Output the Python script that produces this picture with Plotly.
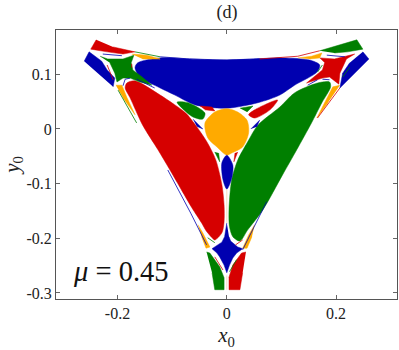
import plotly.graph_objects as go

BLUE = "#0000b0"
RED = "#d60000"
GREEN = "#007f00"
ORANGE = "#ffaa00"
PEACH = "#f5d5b0"

x_ticks = [-0.2, 0, 0.2]
x_labels = ["-0.2", "0", "0.2"]
y_ticks = [0.1, 0, -0.1, -0.2, -0.3]
y_labels = ["0.1", "0", "-0.1", "-0.2", "-0.3"]

# basin outlines in (x0, y0)
blue_top_x = [-0.168, -0.163, -0.122, -0.068, -0.013, 0.048, 0.102, 0.152, 0.170, 0.165, 0.124, 0.097, 0.057, 0.0, -0.058, -0.095, -0.122, -0.159]
blue_top_y = [0.112, 0.121, 0.130, 0.128, 0.126, 0.128, 0.130, 0.126, 0.117, 0.104, 0.080, 0.062, 0.048, 0.038, 0.044, 0.062, 0.075, 0.095]
red_lobe_x = [-0.186, -0.183, -0.168, -0.122, -0.095, -0.075, -0.055, -0.035, -0.020, -0.009, -0.005, -0.005, -0.009, -0.022, -0.027, -0.038, -0.046, -0.064, -0.104, -0.126, -0.154, -0.177]
red_lobe_y = [0.075, 0.084, 0.088, 0.062, 0.044, 0.029, 0.004, -0.026, -0.057, -0.102, -0.139, -0.170, -0.190, -0.203, -0.199, -0.186, -0.172, -0.144, -0.075, -0.038, 0.007, 0.057]
green_lobe_x = [0.188, 0.190, 0.174, 0.155, 0.128, 0.102, 0.066, 0.038, 0.024, 0.011, 0.005, 0.004, 0.009, 0.020, 0.038, 0.057, 0.097, 0.124, 0.166]
green_lobe_y = [0.086, 0.077, 0.048, 0.011, -0.038, -0.084, -0.148, -0.185, -0.205, -0.197, -0.179, -0.148, -0.093, -0.057, -0.024, 0.007, 0.040, 0.066, 0.084]
orange_mid_x = [-0.040, -0.022, 0.0, 0.020, 0.037, 0.040, 0.029, 0.009, 0.0, -0.018, -0.035]
orange_mid_y = [0.011, 0.031, 0.037, 0.031, 0.016, -0.007, -0.033, -0.044, -0.048, -0.033, -0.016]
blue_drop_x = [0.0, -0.009, -0.007, 0.0, 0.009, 0.011]
blue_drop_y = [-0.048, -0.062, -0.093, -0.110, -0.090, -0.066]
blue_star_x = [0.0, -0.002, -0.004, -0.009, -0.016, -0.027, -0.018, -0.013, -0.005, 0.0, 0.005, 0.011, 0.018, 0.029, 0.020, 0.015, 0.007, 0.004]
blue_star_y = [-0.172, -0.188, -0.197, -0.207, -0.212, -0.219, -0.227, -0.234, -0.249, -0.263, -0.249, -0.236, -0.227, -0.219, -0.216, -0.212, -0.205, -0.197]
green_low_x = [-0.037, -0.031, -0.013, -0.005, -0.005, -0.022, -0.027]
green_low_y = [-0.225, -0.227, -0.252, -0.272, -0.294, -0.294, -0.263]
red_low_x = [0.035, 0.027, 0.011, 0.004, 0.004, 0.024, 0.029]
red_low_y = [-0.225, -0.227, -0.249, -0.271, -0.294, -0.294, -0.263]
orange_ll_x = [-0.053, -0.044, -0.031, -0.038, -0.046]
orange_ll_y = [-0.175, -0.190, -0.216, -0.218, -0.197]
orange_lr_x = [0.051, 0.040, 0.029, 0.037, 0.046]
orange_lr_y = [-0.175, -0.194, -0.218, -0.218, -0.197]
green_sm_low_x = [-0.022, -0.013, -0.015]
green_sm_low_y = [-0.042, -0.060, -0.044]
red_sm_low_x = [0.020, 0.013, 0.015]
red_sm_low_y = [-0.042, -0.060, -0.044]

red_wedge_x = [-0.239, -0.249, -0.219, -0.190, -0.168, -0.208]
red_wedge_y = [0.163, 0.146, 0.141, 0.137, 0.141, 0.150]
blue_tip_l_x = [-0.261, -0.252, -0.229, -0.219, -0.205, -0.208]
blue_tip_l_y = [0.124, 0.141, 0.124, 0.108, 0.093, 0.077]
green_star_x = [-0.232, -0.218, -0.190, -0.170, -0.175, -0.172, -0.155, -0.137, -0.159, -0.177, -0.190, -0.201, -0.205, -0.214]
green_star_y = [0.133, 0.128, 0.128, 0.135, 0.121, 0.108, 0.095, 0.080, 0.086, 0.093, 0.093, 0.086, 0.102, 0.121]
orange_ul_x = [-0.174, -0.146, -0.122, -0.154]
orange_ul_y = [0.137, 0.135, 0.128, 0.128]
orange_ul2_x = [-0.203, -0.192, -0.183, -0.168, -0.190]
orange_ul2_y = [0.080, 0.080, 0.058, 0.026, 0.057]
green_sm_l_x = [-0.091, -0.071, -0.040, -0.044, -0.062, -0.082]
green_sm_l_y = [0.049, 0.048, 0.029, 0.018, 0.022, 0.038]
red_sm_l_x = [-0.049, -0.027, -0.022, -0.040]
red_sm_l_y = [0.042, 0.040, 0.033, 0.035]
blue_sm_l_x = [-0.062, -0.044, -0.055]
blue_sm_l_y = [0.018, 0.0, 0.005]

green_wedge_x = [0.170, 0.238, 0.249, 0.221, 0.197]
green_wedge_y = [0.143, 0.163, 0.146, 0.141, 0.139]
blue_tip_r_x = [0.249, 0.260, 0.207, 0.212, 0.225]
blue_tip_r_y = [0.141, 0.128, 0.075, 0.102, 0.121]
red_star_x = [0.170, 0.197, 0.234, 0.219, 0.207, 0.205, 0.188, 0.175, 0.146, 0.175, 0.179]
red_star_y = [0.130, 0.128, 0.137, 0.128, 0.102, 0.082, 0.095, 0.093, 0.084, 0.108, 0.121]
orange_ur_x = [0.130, 0.155, 0.174, 0.170, 0.152]
orange_ur_y = [0.130, 0.133, 0.139, 0.130, 0.128]
orange_ur2_x = [0.207, 0.194, 0.175, 0.165, 0.185]
orange_ur2_y = [0.080, 0.077, 0.040, 0.020, 0.048]
red_sm_r_x = [0.040, 0.051, 0.093, 0.079, 0.051]
red_sm_r_y = [0.026, 0.035, 0.053, 0.035, 0.020]
green_sm_r_x = [0.024, 0.048, 0.037]
green_sm_r_y = [0.038, 0.042, 0.031]
blue_sm_r_x = [0.044, 0.060, 0.055]
blue_sm_r_y = [0.0, 0.016, 0.004]

# thin filaments along the basin edges
fil_top_l_x = [-0.168, -0.122]
fil_top_l_y = [0.141, 0.132]
fil_top_x = [-0.122, -0.068, 0.0, 0.060]
fil_top_y = [0.132, 0.128, 0.126, 0.128]
fil_top_r_x = [0.060, 0.130, 0.170]
fil_top_r_y = [0.128, 0.133, 0.143]
fil_left_x = [-0.199, -0.165]
fil_left_y = [0.071, 0.011]
fil_left2_x = [-0.108, -0.066, -0.037]
fil_left2_y = [-0.075, -0.154, -0.212]
fil_right_x = [0.166, 0.207]
fil_right_y = [0.020, 0.075]
fil_right2_x = [0.073, 0.029]
fil_right2_y = [-0.133, -0.221]
fil_mid_x = [0.0, 0.0]
fil_mid_y = [-0.110, -0.172]
fil_tail_x = [0.0, 0.0]
fil_tail_y = [-0.268, -0.294]
fil_a_x = [-0.227, -0.192]
fil_a_y = [0.137, 0.134]
fil_b_x = [-0.219, -0.208]
fil_b_y = [0.117, 0.090]
fil_c_x = [-0.190, -0.186, -0.177]
fil_c_y = [0.079, 0.091, 0.093]
fil_e_x = [-0.165, -0.132]
fil_e_y = [0.091, 0.075]
fil_f_x = [-0.174, -0.174]
fil_f_y = [0.119, 0.112]
fil_g_x = [0.183, 0.216]
fil_g_y = [0.135, 0.132]
fil_h_x = [0.212, 0.225]
fil_h_y = [0.095, 0.113]
fil_i_x = [0.175, 0.188]
fil_i_y = [0.091, 0.090]
fil_j_x = [0.148, 0.166]
fil_j_y = [0.080, 0.090]
fil_k_x = [0.175, 0.166]
fil_k_y = [0.117, 0.104]
fil_m_x = [-0.035, -0.022]
fil_m_y = [-0.199, -0.208]
fil_n_x = [-0.022, -0.007]
fil_n_y = [-0.234, -0.258]
fil_o_x = [0.018, 0.005]
fil_o_y = [-0.239, -0.261]
fil_p_x = [0.029, 0.016]
fil_p_y = [-0.203, -0.212]

# smooth outlines go through a spline, the cornered ones stay straight
smooth_fills = [
    (blue_top_x, blue_top_y, BLUE), (red_lobe_x, red_lobe_y, RED), (green_lobe_x, green_lobe_y, GREEN),
    (orange_mid_x, orange_mid_y, ORANGE), (blue_drop_x, blue_drop_y, BLUE),
    (green_sm_l_x, green_sm_l_y, GREEN), (red_sm_r_x, red_sm_r_y, RED),
]
sharp_fills = [
    (blue_star_x, blue_star_y, BLUE), (green_low_x, green_low_y, GREEN), (red_low_x, red_low_y, RED),
    (orange_ll_x, orange_ll_y, ORANGE), (orange_lr_x, orange_lr_y, ORANGE), (green_sm_low_x, green_sm_low_y, GREEN),
    (red_sm_low_x, red_sm_low_y, RED), (red_wedge_x, red_wedge_y, RED), (blue_tip_l_x, blue_tip_l_y, BLUE),
    (green_star_x, green_star_y, GREEN), (orange_ul_x, orange_ul_y, ORANGE), (orange_ul2_x, orange_ul2_y, ORANGE),
    (red_sm_l_x, red_sm_l_y, RED), (blue_sm_l_x, blue_sm_l_y, BLUE), (green_wedge_x, green_wedge_y, GREEN),
    (blue_tip_r_x, blue_tip_r_y, BLUE), (red_star_x, red_star_y, RED), (orange_ur_x, orange_ur_y, ORANGE),
    (orange_ur2_x, orange_ur2_y, ORANGE), (green_sm_r_x, green_sm_r_y, GREEN), (blue_sm_r_x, blue_sm_r_y, BLUE),
]
lines = [
    (fil_top_l_x, fil_top_l_y, GREEN), (fil_top_x, fil_top_y, BLUE), (fil_top_r_x, fil_top_r_y, RED),
    (fil_left_x, fil_left_y, GREEN), (fil_left2_x, fil_left2_y, BLUE), (fil_right_x, fil_right_y, RED),
    (fil_right2_x, fil_right2_y, BLUE), (fil_mid_x, fil_mid_y, PEACH), (fil_tail_x, fil_tail_y, PEACH),
    (fil_a_x, fil_a_y, BLUE), (fil_b_x, fil_b_y, RED), (fil_c_x, fil_c_y, BLUE), (fil_e_x, fil_e_y, BLUE),
    (fil_f_x, fil_f_y, RED), (fil_g_x, fil_g_y, BLUE), (fil_h_x, fil_h_y, GREEN), (fil_i_x, fil_i_y, BLUE),
    (fil_j_x, fil_j_y, BLUE), (fil_k_x, fil_k_y, GREEN), (fil_m_x, fil_m_y, GREEN), (fil_n_x, fil_n_y, RED),
    (fil_o_x, fil_o_y, GREEN), (fil_p_x, fil_p_y, RED),
]

fig = go.Figure()
for xs, ys, colour in smooth_fills:
    fig.add_trace(go.Scatter(x=xs + xs[:1], y=ys + ys[:1], mode="lines", fill="toself", fillcolor=colour,
                             line=dict(color=colour, width=0.5, shape="spline", smoothing=0.8), hoverinfo="skip"))
for xs, ys, colour in sharp_fills:
    fig.add_trace(go.Scatter(x=xs, y=ys, mode="lines", fill="toself", fillcolor=colour,
                             line=dict(color=colour, width=0.5), hoverinfo="skip"))
for xs, ys, colour in lines:
    fig.add_trace(go.Scatter(x=xs, y=ys, mode="lines", line=dict(color=colour, width=0.8), hoverinfo="skip"))

serif = "Liberation Serif"
axis_style = dict(showgrid=False, zeroline=False, ticks="inside", ticklen=4, tickcolor="#666666",
                  showline=True, linecolor="#555555", linewidth=1, mirror="ticks",
                  tickfont=dict(family=serif, size=16, color="#222222"))
fig.update_xaxes(range=[-0.3126, 0.3115], tickvals=x_ticks, ticktext=x_labels,
                 title=dict(text="<i>x</i><sub>0</sub>", font=dict(family=serif, size=21, color="#222222"), standoff=6),
                 **axis_style)
fig.update_yaxes(range=[-0.311, 0.181], tickvals=y_ticks, ticktext=y_labels,
                 title=dict(text="<i>y</i><sub>0</sub>", font=dict(family=serif, size=21, color="#222222"), standoff=2),
                 **axis_style)
fig.add_annotation(x=-0.286, y=-0.261, text="<i>μ</i> = 0.45", showarrow=False, xanchor="left",
                   font=dict(family=serif, size=28.5, color="#111111"))
fig.update_layout(
    width=399, height=350,
    margin=dict(l=56, r=2, t=30, b=51),
    paper_bgcolor="white", plot_bgcolor="white",
    showlegend=False,
    title=dict(text="(d)", x=227 / 399, xanchor="center", y=1 - 12 / 350, yanchor="middle",
               font=dict(family=serif, size=18, color="#222222")),
)
fig.write_html("out.html", config={"displayModeBar": False}, post_script="document.body.style.margin='0';")
